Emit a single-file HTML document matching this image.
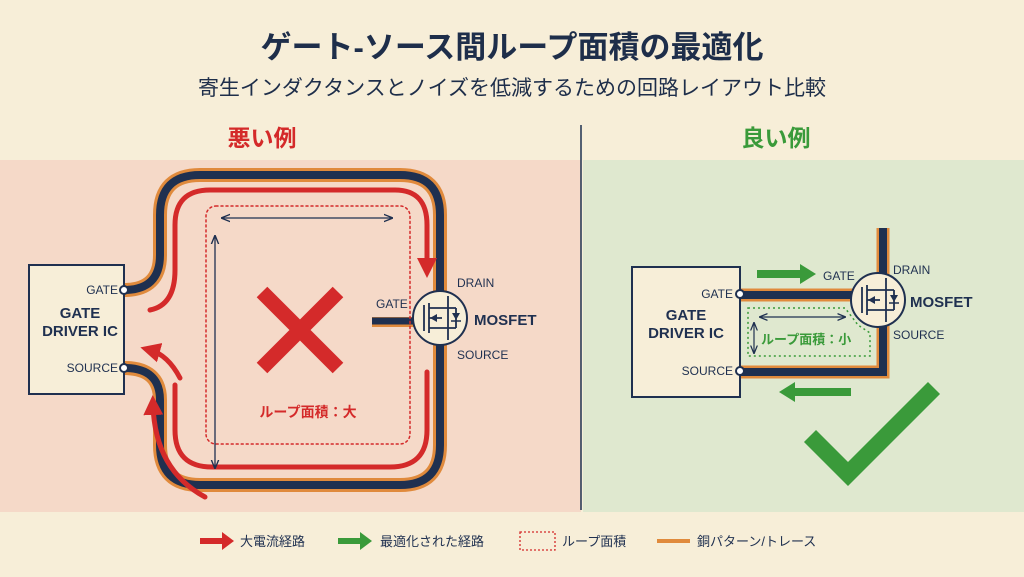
<!DOCTYPE html>
<html><head><meta charset="utf-8"><style>
body{margin:0;width:1024px;height:572px;overflow:hidden;background:#f7eed8;font-family:"Liberation Sans","Noto Sans CJK JP",sans-serif}
</style></head><body>
<svg width="1024" height="572" viewBox="0 0 1024 572" xmlns="http://www.w3.org/2000/svg" font-family="Liberation Sans, Noto Sans CJK JP, sans-serif">
<defs>
<marker id="ar" viewBox="0 0 10 10" refX="5" refY="5" markerWidth="4" markerHeight="4" orient="auto"><path d="M0,0L10,5L0,10z" fill="#d42a2a"/></marker>
<marker id="na" viewBox="0 0 10 10" refX="9" refY="5" markerWidth="7" markerHeight="7" orient="auto-start-reverse"><path d="M0,1L10,5L0,9" fill="none" stroke="#1f3050" stroke-width="1.5"/></marker>
</defs>
<rect x="0" y="0" width="1024" height="572" fill="#f7eed8"/>
<rect x="0" y="160" width="581" height="352" fill="#f5d9c8"/>
<rect x="583" y="160" width="441" height="352" fill="#dfe8cf"/>
<line x1="581" y1="125" x2="581" y2="510" stroke="#1f3050" stroke-width="1.5"/>
<text x="512" y="58" text-anchor="middle" font-size="31" font-weight="bold" fill="#1e2e4a">ゲート-ソース間ループ面積の最適化</text>
<text x="512" y="95" text-anchor="middle" font-size="21" fill="#1e2e4a">寄生インダクタンスとノイズを低減するための回路レイアウト比較</text>
<text x="262" y="146" text-anchor="middle" font-size="23" font-weight="bold" fill="#d42a2a">悪い例</text>
<text x="776" y="146" text-anchor="middle" font-size="23" font-weight="bold" fill="#3a9a3a">良い例</text>

<!-- LEFT -->
<g fill="none" stroke-linecap="round">
<path d="M124,290 Q160,290 160,255 L160,215 Q160,175 200,175 L400,175 Q440,175 440,215 L440,445 Q440,485 400,485 L200,485 Q160,485 160,445 L160,400 Q160,368 124,368" stroke="#e08a3c" stroke-width="14"/>
<path d="M124,290 Q160,290 160,255 L160,215 Q160,175 200,175 L400,175 Q440,175 440,215 L440,445 Q440,485 400,485 L200,485 Q160,485 160,445 L160,400 Q160,368 124,368" stroke="#1f3050" stroke-width="8"/>
<line x1="372" y1="322" x2="414" y2="322" stroke="#e08a3c" stroke-width="10" stroke-linecap="butt"/>
<line x1="372" y1="321" x2="414" y2="321" stroke="#1f3050" stroke-width="7" stroke-linecap="butt"/>
<path d="M150,310 Q175,305 175,270 L175,225 Q175,190 210,190 L395,190 Q427,190 427,225 L427,268" stroke="#d42a2a" stroke-width="5" marker-end="url(#ar)"/>
<path d="M427,372 L427,430 Q427,467 390,467 L212,467 Q175,467 175,430 L175,385" stroke="#d42a2a" stroke-width="5"/>
<path d="M180,378 Q168,355 150,350" stroke="#d42a2a" stroke-width="5" marker-end="url(#ar)"/>
<path d="M205,497 Q155,470 153,405" stroke="#d42a2a" stroke-width="5" marker-end="url(#ar)"/>
<rect x="206" y="206" width="204" height="238" rx="10" stroke="#d42a2a" stroke-width="1.5" stroke-dasharray="2,3"/>
<line x1="222" y1="218" x2="392" y2="218" stroke="#1f3050" stroke-width="1.3" marker-start="url(#na)" marker-end="url(#na)"/>
<line x1="215" y1="236" x2="215" y2="468" stroke="#1f3050" stroke-width="1.3" marker-start="url(#na)" marker-end="url(#na)"/>
<path d="M262,292 L338,368 M338,292 L262,368" stroke="#d42a2a" stroke-width="15" stroke-linecap="butt"/>
</g>
<rect x="29" y="265" width="95" height="129" fill="#f7eed8" stroke="#1f3050" stroke-width="2"/>
<circle cx="124" cy="290" r="4" fill="#fff" stroke="#1f3050" stroke-width="2"/>
<circle cx="124" cy="368" r="4" fill="#fff" stroke="#1f3050" stroke-width="2"/>
<text x="118" y="294" text-anchor="end" font-size="12" fill="#1f3050">GATE</text>
<text x="118" y="372" text-anchor="end" font-size="12" fill="#1f3050">SOURCE</text>
<text x="80" y="318" text-anchor="middle" font-size="15" font-weight="bold" fill="#1f3050">GATE</text>
<text x="80" y="336" text-anchor="middle" font-size="15" font-weight="bold" fill="#1f3050">DRIVER IC</text>
<g id="mos">
<circle cx="440" cy="318" r="27" fill="#f7eed8" stroke="#1f3050" stroke-width="2"/>
<path d="M424,305 L424,331 M429,303 L429,333 M429,308 L448,308 L448,296 M429,328 L448,328 L448,340 M429,318 L442,318 M448,308 L448,328 M456,308 L456,328 M448,308 L456,308 M448,328 L456,328" fill="none" stroke="#1f3050" stroke-width="1.8"/>
<path d="M430,318 L437,314 L437,322z M452,313 L460,313 L456,320z" fill="#1f3050"/>
<line x1="451" y1="321" x2="461" y2="321" stroke="#1f3050" stroke-width="1.5"/>
</g>
<text x="376" y="308" font-size="12" fill="#1f3050">GATE</text>
<text x="457" y="287" font-size="12" fill="#1f3050">DRAIN</text>
<text x="474" y="325" font-size="15" font-weight="bold" fill="#1f3050">MOSFET</text>
<text x="457" y="359" font-size="12" fill="#1f3050">SOURCE</text>
<text x="308" y="417" text-anchor="middle" font-size="14" font-weight="bold" fill="#d42a2a">ループ面積：大</text>

<!-- RIGHT -->
<g fill="none">
<path d="M740,295 L855,295" stroke="#e08a3c" stroke-width="13"/>
<path d="M740,295 L855,295" stroke="#1f3050" stroke-width="8"/>
<path d="M883,228 L883,372 L740,372" stroke="#e08a3c" stroke-width="13"/>
<path d="M883,228 L883,372 L740,372" stroke="#1f3050" stroke-width="8"/>
<path d="M748,308 L845,308 L858,325 L870,333 L870,356 L748,356z" stroke="#3a9a3a" stroke-width="1.5" stroke-dasharray="2,3"/>
<line x1="760" y1="317" x2="845" y2="317" stroke="#1f3050" stroke-width="1.2" marker-start="url(#na)" marker-end="url(#na)"/>
<line x1="754" y1="323" x2="754" y2="353" stroke="#1f3050" stroke-width="1.2" marker-start="url(#na)" marker-end="url(#na)"/>
<path d="M810,436 L848,474 L934,388" stroke="#3a9a3a" stroke-width="17"/>
</g>
<path d="M757,270 L800,270 L800,264 L816,274 L800,284 L800,278 L757,278z" fill="#3a9a3a"/>
<path d="M851,388 L795,388 L795,382 L779,392 L795,402 L795,396 L851,396z" fill="#3a9a3a"/>
<rect x="632" y="267" width="108" height="130" fill="#f7eed8" stroke="#1f3050" stroke-width="2"/>
<circle cx="740" cy="294" r="4" fill="#fff" stroke="#1f3050" stroke-width="2"/>
<circle cx="740" cy="371" r="4" fill="#fff" stroke="#1f3050" stroke-width="2"/>
<text x="733" y="298" text-anchor="end" font-size="12" fill="#1f3050">GATE</text>
<text x="733" y="375" text-anchor="end" font-size="12" fill="#1f3050">SOURCE</text>
<text x="686" y="320" text-anchor="middle" font-size="15" font-weight="bold" fill="#1f3050">GATE</text>
<text x="686" y="338" text-anchor="middle" font-size="15" font-weight="bold" fill="#1f3050">DRIVER IC</text>
<use href="#mos" transform="translate(438,-18)"/>
<text x="823" y="280" font-size="12" fill="#1f3050">GATE</text>
<text x="893" y="274" font-size="12" fill="#1f3050">DRAIN</text>
<text x="910" y="307" font-size="15" font-weight="bold" fill="#1f3050">MOSFET</text>
<text x="893" y="339" font-size="12" fill="#1f3050">SOURCE</text>
<text x="761" y="344" font-size="13" font-weight="bold" fill="#3a9a3a">ループ面積：小</text>

<!-- LEGEND -->
<path d="M200,538 L222,538 L222,532 L234,541 L222,550 L222,544 L200,544z" fill="#d42a2a"/>
<text x="240" y="546" font-size="13" fill="#1f3050">大電流経路</text>
<path d="M338,538 L360,538 L360,532 L372,541 L360,550 L360,544 L338,544z" fill="#3a9a3a"/>
<text x="380" y="546" font-size="13" fill="#1f3050">最適化された経路</text>
<rect x="520" y="532" width="35" height="18" fill="none" stroke="#d42a2a" stroke-width="1.3" stroke-dasharray="2,2"/>
<text x="562" y="546" font-size="13" fill="#1f3050">ループ面積</text>
<line x1="657" y1="541" x2="690" y2="541" stroke="#e08a3c" stroke-width="4"/>
<text x="697" y="546" font-size="13" fill="#1f3050">銅パターン/トレース</text>
</svg>
</body></html>
